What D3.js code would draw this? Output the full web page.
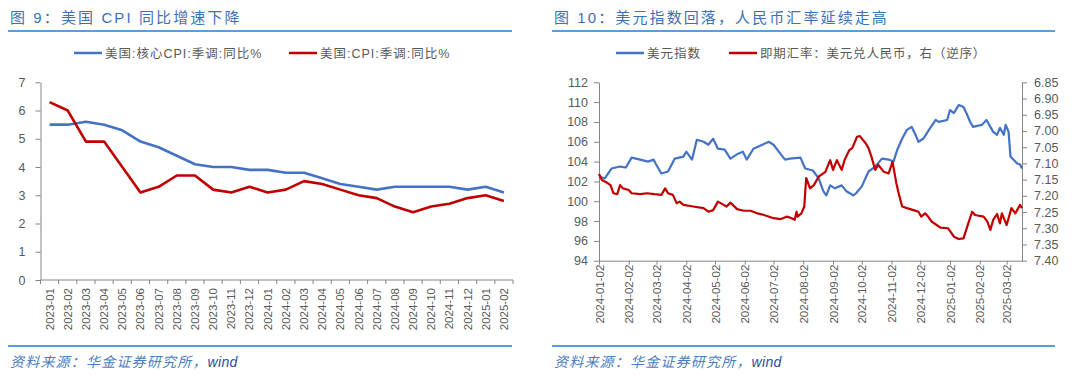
<!DOCTYPE html>
<html>
<head>
<meta charset="utf-8">
<script src="https://cdn.jsdelivr.net/npm/d3@7"></script>
<style>
  body { margin: 0; background: #fff; }
  svg { font-family: "Liberation Sans", Arial, "Noto Sans CJK SC", sans-serif; }
</style>
</head>
<body>
<div id="chart"></div>
<script>
// ---- data: chart 9 (US CPI) ----
var months = ["2023-01","2023-02","2023-03","2023-04","2023-05","2023-06","2023-07","2023-08","2023-09","2023-10","2023-11","2023-12",
              "2024-01","2024-02","2024-03","2024-04","2024-05","2024-06","2024-07","2024-08","2024-09","2024-10","2024-11","2024-12",
              "2025-01","2025-02"];
var coreCpi = [5.5,5.5,5.6,5.5,5.3,4.9,4.7,4.4,4.1,4.0,4.0,3.9,3.9,3.8,3.8,3.6,3.4,3.3,3.2,3.3,3.3,3.3,3.3,3.2,3.3,3.1];
var cpi     = [6.3,6.0,4.9,4.9,4.0,3.1,3.3,3.7,3.7,3.2,3.1,3.3,3.1,3.2,3.5,3.4,3.2,3.0,2.9,2.6,2.4,2.6,2.7,2.9,3.0,2.8];
var cpiTicks = [0,1,2,3,4,5,6,7];

// ---- data: chart 10 (dollar index / USDCNY) ----
var dxyDates = ["2024-01-02","2024-01-08","2024-01-15","2024-01-24","2024-01-30","2024-02-05","2024-02-14","2024-02-22","2024-02-28","2024-03-01",
  "2024-03-07","2024-03-14","2024-03-21","2024-03-30","2024-04-02","2024-04-08","2024-04-13","2024-04-20","2024-04-25","2024-04-30",
  "2024-05-05","2024-05-12","2024-05-18","2024-05-26","2024-05-31","2024-06-04","2024-06-11","2024-06-18","2024-06-27","2024-07-02",
  "2024-07-09","2024-07-14","2024-07-19","2024-07-30","2024-08-04","2024-08-12","2024-08-18","2024-08-23","2024-08-26","2024-08-30",
  "2024-09-04","2024-09-11","2024-09-16","2024-09-23","2024-09-26","2024-10-02","2024-10-09","2024-10-16","2024-10-23","2024-10-30",
  "2024-11-04","2024-11-08","2024-11-13","2024-11-18","2024-11-23","2024-11-27","2024-11-30","2024-12-05","2024-12-11","2024-12-18",
  "2024-12-21","2024-12-30","2025-01-02","2025-01-06","2025-01-11","2025-01-16","2025-01-19","2025-01-23","2025-01-26","2025-02-04",
  "2025-02-09","2025-02-13","2025-02-16","2025-02-20","2025-02-23","2025-02-27","2025-03-01","2025-03-04","2025-03-06","2025-03-09",
  "2025-03-13","2025-03-16","2025-03-18"];
var dxy = [102.5,102.3,103.3,103.5,103.4,104.4,104.2,104.0,104.2,103.8,
  102.8,103.0,104.3,104.5,105.0,104.2,106.2,106.0,105.7,106.3,
  105.3,105.2,104.3,104.8,105.0,104.2,105.3,105.6,106.0,105.7,
  104.8,104.2,104.3,104.4,103.3,103.1,102.3,101.0,100.6,101.6,
  101.3,101.6,101.0,100.6,100.8,101.5,103.0,103.5,104.3,104.2,
  104.0,105.2,106.3,107.2,107.5,106.7,106.0,106.3,107.2,108.2,
  108.0,108.2,109.2,108.9,109.7,109.5,108.9,108.0,107.5,107.7,
  108.2,107.5,107.0,106.7,107.4,106.7,107.7,107.0,104.5,104.2,
  103.8,103.7,103.3];

var cnyDates = ["2024-01-02","2024-01-05","2024-01-10","2024-01-14","2024-01-17","2024-01-21","2024-01-24","2024-01-27","2024-02-02","2024-02-05",
  "2024-02-14","2024-02-21","2024-02-29","2024-03-07","2024-03-11","2024-03-14","2024-03-19","2024-03-23","2024-03-26","2024-03-30",
  "2024-04-09","2024-04-20","2024-04-25","2024-04-30","2024-05-05","2024-05-11","2024-05-14","2024-05-18","2024-05-25","2024-06-01",
  "2024-06-08","2024-06-15","2024-06-22","2024-07-02","2024-07-09","2024-07-16","2024-07-21","2024-07-24","2024-07-26","2024-07-27",
  "2024-07-31","2024-08-03","2024-08-05","2024-08-09","2024-08-13","2024-08-18","2024-08-25","2024-08-30","2024-09-02","2024-09-06",
  "2024-09-11","2024-09-14","2024-09-19","2024-09-22","2024-09-27","2024-09-30","2024-10-06","2024-10-09","2024-10-12","2024-10-16",
  "2024-10-19","2024-10-25","2024-10-30","2024-11-03","2024-11-07","2024-11-09","2024-11-13","2024-11-18","2024-11-25","2024-11-30",
  "2024-12-03","2024-12-07","2024-12-10","2024-12-14","2024-12-19","2024-12-23","2024-12-31","2025-01-06","2025-01-11","2025-01-16",
  "2025-01-21","2025-01-25","2025-01-28","2025-02-06","2025-02-10","2025-02-13","2025-02-16","2025-02-20","2025-02-23","2025-02-25",
  "2025-03-02","2025-03-07","2025-03-11","2025-03-16","2025-03-18"];
var usdcny = [7.133,7.151,7.159,7.167,7.192,7.195,7.167,7.177,7.182,7.192,
  7.195,7.192,7.195,7.197,7.177,7.192,7.197,7.223,7.218,7.228,
  7.233,7.238,7.249,7.244,7.218,7.228,7.233,7.221,7.241,7.246,
  7.246,7.254,7.259,7.269,7.272,7.264,7.269,7.274,7.249,7.264,
  7.254,7.233,7.145,7.177,7.167,7.141,7.126,7.090,7.120,7.090,
  7.120,7.090,7.059,7.053,7.018,7.016,7.038,7.053,7.079,7.120,
  7.104,7.126,7.131,7.095,7.161,7.187,7.233,7.238,7.244,7.249,
  7.264,7.254,7.264,7.280,7.290,7.298,7.300,7.326,7.333,7.331,
  7.285,7.249,7.259,7.264,7.280,7.305,7.274,7.256,7.285,7.254,
  7.290,7.238,7.254,7.228,7.238];

var dateTicks = ["2024-01-02","2024-02-02","2024-03-02","2024-04-02","2024-05-02","2024-06-02","2024-07-02","2024-08-02",
                 "2024-09-02","2024-10-02","2024-11-02","2024-12-02","2025-01-02","2025-02-02","2025-03-02"];
var dxyTicks = [94,96,98,100,102,104,106,108,110,112];
var cnyTicks = [6.85,6.90,6.95,7.00,7.05,7.10,7.15,7.20,7.25,7.30,7.35,7.40];

var BLUE = "#4472c4", RED = "#c00000", AXIS = "#868686", TXT = "#595959";
var parseDate = d3.timeParse("%Y-%m-%d");

var svg = d3.select("#chart").append("svg")
    .attr("width", 1080).attr("height", 376);

// ---- panel frame: title, rules, source ----
function frame(x0, x1, title) {
  svg.append("text").attr("x", x0 + 2).attr("y", 23)
     .attr("fill", "#3b72b5").style("font-size", "15px").style("letter-spacing", "2.1px")
     .text(title);
  svg.append("line").attr("x1", x0).attr("x2", x1).attr("y1", 31).attr("y2", 31)
     .attr("stroke", "#1b7fd4").attr("stroke-width", 1.3);
  svg.append("line").attr("x1", x0).attr("x2", x1).attr("y1", 346).attr("y2", 346)
     .attr("stroke", "#1b7fd4").attr("stroke-width", 1.3);
  var src = svg.append("text").attr("x", x0 + 2).attr("y", 367)
     .style("font-size", "14px").style("font-style", "italic").style("letter-spacing", "1.2px");
  src.append("tspan").attr("fill", "#4a7cc0").text("资料来源：华金证券研究所，");
  src.append("tspan").attr("fill", "#1f4e9c").style("letter-spacing", "0.3px").text("wind");
}

function legendItem(x, color, label, spacing) {
  svg.append("line").attr("x1", x).attr("x2", x + 28).attr("y1", 53).attr("y2", 53)
     .attr("stroke", color).attr("stroke-width", 2.5);
  svg.append("text").attr("x", x + 31).attr("y", 57.5).attr("fill", TXT)
     .style("font-size", "12.5px").style("letter-spacing", spacing + "px").text(label);
}

function styleAxis(g) {
  g.selectAll("path, line").attr("stroke", AXIS);
  g.selectAll("text").attr("fill", TXT).style("font-size", "12px");
}

// ================= chart 9 =================
frame(8, 512, "图 9：美国 CPI 同比增速下降");
legendItem(74, BLUE, "美国:核心CPI:季调:同比%", 1);
legendItem(289, RED, "美国:CPI:季调:同比%", 1);

var x9 = d3.scaleBand().domain(months).range([40.5, 513]);
var y9 = d3.scaleLinear().domain([0, 7]).range([280, 82.3]);

var gy9 = svg.append("g").attr("transform", "translate(40.5,0)")
  .call(d3.axisLeft(y9).tickValues(cpiTicks).tickFormat(d3.format("d")).tickSize(5).tickSizeOuter(0).tickPadding(10));
styleAxis(gy9);
gy9.selectAll("text").style("font-size", "12.5px");

// x axis: ticks at band boundaries, labels at band centres
var gx9 = svg.append("g").attr("transform", "translate(0,280)");
gx9.append("line").attr("x1", x9.range()[0]).attr("x2", x9.range()[1]).attr("stroke", AXIS);
gx9.selectAll(".bt").data(months.concat(["end"])).enter().append("line")
  .attr("x1", function(d, i) { return i < months.length ? x9(d) : x9.range()[1]; })
  .attr("x2", function(d, i) { return i < months.length ? x9(d) : x9.range()[1]; })
  .attr("y1", 0).attr("y2", 4).attr("stroke", AXIS);
gx9.selectAll(".lb").data(months).enter().append("text")
  .attr("transform", function(d) { return "translate(" + (x9(d) + x9.bandwidth() / 2 + 4) + ",8) rotate(-90)"; })
  .attr("text-anchor", "end").attr("fill", TXT).style("font-size", "11.5px")
  .text(function(d) { return d; });

var line9 = function(vals) {
  return d3.line()
    .x(function(d, i) { return x9(months[i]) + x9.bandwidth() / 2; })
    .y(function(d) { return y9(d); })(vals);
};
svg.append("path").attr("d", line9(coreCpi)).attr("fill", "none")
  .attr("stroke", BLUE).attr("stroke-width", 2.6).attr("stroke-linejoin", "round");
svg.append("path").attr("d", line9(cpi)).attr("fill", "none")
  .attr("stroke", RED).attr("stroke-width", 2.6).attr("stroke-linejoin", "round");

// ================= chart 10 =================
frame(552, 1055, "图 10：美元指数回落，人民币汇率延续走高");
legendItem(616, BLUE, "美元指数", 1);
legendItem(729, RED, "即期汇率：美元兑人民币，右（逆序）", 0.8);

var x10 = d3.scaleTime().domain([parseDate("2024-01-02"), parseDate("2025-03-18")]).range([599, 1022]);
var yL = d3.scaleLinear().domain([94, 112]).range([260.7, 82.3]);
var yR = d3.scaleLinear().domain([6.85, 7.40]).range([82.3, 260.7]);

var gyl = svg.append("g").attr("transform", "translate(599,0)")
  .call(d3.axisLeft(yL).tickValues(dxyTicks).tickSize(5).tickSizeOuter(0).tickPadding(6));
styleAxis(gyl);
gyl.selectAll("text").style("font-size", "12.5px");

var gyr = svg.append("g").attr("transform", "translate(1022,0)")
  .call(d3.axisRight(yR).tickValues(cnyTicks).tickFormat(d3.format(".2f")).tickSize(5).tickSizeOuter(0).tickPadding(7));
styleAxis(gyr);
gyr.selectAll("text").style("font-size", "12.5px");

var gx10 = svg.append("g").attr("transform", "translate(0,260.7)")
  .call(d3.axisBottom(x10).tickValues(dateTicks.map(parseDate)).tickSize(4).tickSizeOuter(0)
        .tickFormat(d3.timeFormat("%Y-%m-%d")));
styleAxis(gx10);
gx10.select(".domain").attr("d", "M599,0.5H1022");
gx10.selectAll(".tick text")
  .attr("transform", "translate(4,4) rotate(-90)").attr("text-anchor", "end")
  .attr("x", 0).attr("y", 0).attr("dy", 0).style("font-size", "11.5px");

var dxyPts = dxyDates.map(function(d, i) { return [parseDate(d), dxy[i]]; });
var cnyPts = cnyDates.map(function(d, i) { return [parseDate(d), usdcny[i]]; });

svg.append("path")
  .attr("d", d3.line().x(function(d) { return x10(d[0]); }).y(function(d) { return yL(d[1]); })(dxyPts))
  .attr("fill", "none").attr("stroke", BLUE).attr("stroke-width", 2.2).attr("stroke-linejoin", "round");
svg.append("path")
  .attr("d", d3.line().x(function(d) { return x10(d[0]); }).y(function(d) { return yR(d[1]); })(cnyPts))
  .attr("fill", "none").attr("stroke", RED).attr("stroke-width", 2.2).attr("stroke-linejoin", "round");
</script>
</body>
</html>
